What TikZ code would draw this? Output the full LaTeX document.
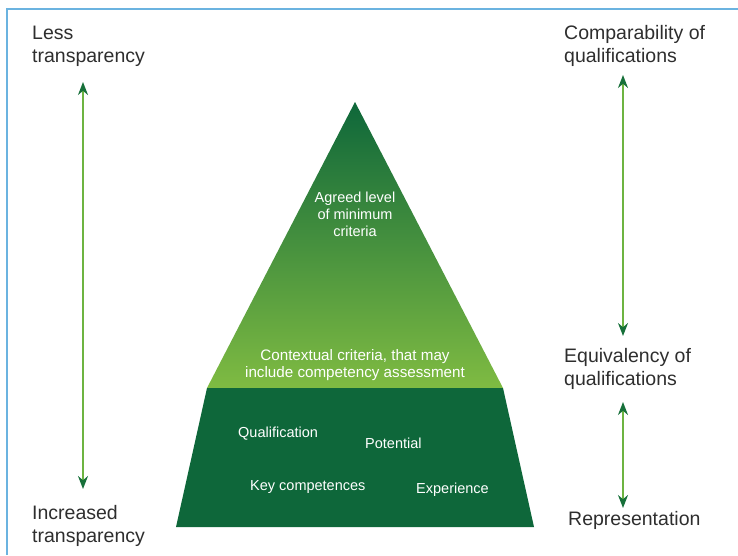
\documentclass[tikz,border=0pt]{standalone}
\usepackage{fontspec}
\setmainfont{Liberation Sans}
\usetikzlibrary{arrows.meta,positioning}

\definecolor{frameblue}{HTML}{6BB3E0}
\definecolor{pyrdark}{HTML}{0E673A}
\definecolor{pyrlight}{HTML}{7FBB42}
\definecolor{arrowgreen}{HTML}{6DB441}
\definecolor{tipgreen}{HTML}{17703A}
\definecolor{labelgray}{HTML}{2E2E2E}

\tikzset{
  sidelabel/.style={anchor=base west, align=left, inner sep=0pt, text=labelgray,
    font=\fontsize{19.5}{23}\selectfont},
  pyrlabel/.style={anchor=base, align=center, inner sep=0pt, text=white,
    font=\fontsize{14.5}{17}\selectfont},
  twoway/.style={draw=arrowgreen, line width=1.8pt,
    {Stealth[color=tipgreen,length=13pt,width=10pt]}-{Stealth[color=tipgreen,length=13pt,width=10pt]}}
}

\begin{document}
\begin{tikzpicture}[x=1pt,y=-1pt]

    % Fix the page size
    \useasboundingbox (0,0) rectangle (738,555);

    % Draw the frame
    \draw[frameblue, line width=1.3pt] (7,555) -- (7,9) -- (738,9);

    % Define the corners of the pyramid
    \coordinate (apex) at (355,102);
    \coordinate (midL) at (207,388);
    \coordinate (midR) at (503,388);
    \coordinate (baseL) at (176,527);
    \coordinate (baseR) at (534,527);

    % Draw the shaded top and the dark base
    \shade[top color=pyrdark, bottom color=pyrlight] (apex) -- (midR) -- (midL) -- cycle;
    \fill[pyrdark] (midL) -- (midR) -- (baseR) -- (baseL) -- cycle;

    % Add the labels inside the pyramid (anchored at the last baseline)
    \node[pyrlabel] (agreed) at (355,236) {Agreed level\\of minimum\\criteria};
    \node[pyrlabel, font=\fontsize{15.2}{17}\selectfont] (context) at (355,377) {Contextual criteria, that may\\include competency assessment};
    \node[pyrlabel, anchor=base west] (qualif) at (238,437) {Qualification};
    \node[pyrlabel, anchor=base west] (potential) at (365,448) {Potential};
    \node[pyrlabel, anchor=base west] (keycomp) at (250,490) {Key competences};
    \node[pyrlabel, anchor=base west] (experience) at (416,493) {Experience};

    % Add the labels at the sides
    \node[sidelabel] (less) at (32,62) {Less\\transparency};
    \node[sidelabel] (increased) at (32,542) {Increased\\transparency};
    \node[sidelabel] (compar) at (564,62) {Comparability of\\qualifications};
    \node[sidelabel] (equiv) at (564,385) {Equivalency of\\qualifications};
    \node[sidelabel] (repres) at (568,525) {Representation};

    % Define the ends of the arrows
    \coordinate (lessEnd) at (83,82);
    \coordinate (increasedEnd) at (83,489);
    \coordinate (comparEnd) at (623,75);
    \coordinate (equivTop) at (623,336);
    \coordinate (equivBottom) at (623,402);
    \coordinate (represEnd) at (623,508);

    % Draw the arrows
    \draw[twoway] (lessEnd) -- (increasedEnd);
    \draw[twoway] (comparEnd) -- (equivTop);
    \draw[twoway] (equivBottom) -- (represEnd);

\end{tikzpicture}
\end{document}
